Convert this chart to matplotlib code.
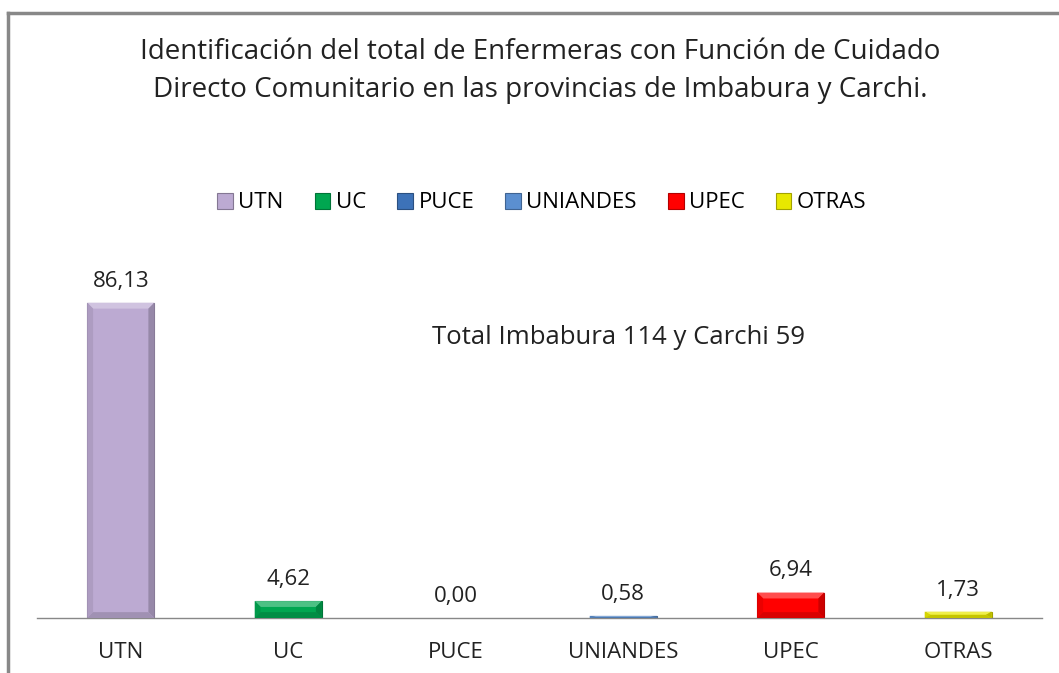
import numpy as np
import matplotlib.pyplot as plt
from matplotlib.patches import Rectangle, Polygon
from matplotlib.lines import Line2D

plt.rcParams['font.family'] = ['Open Sans', 'DejaVu Sans']

categories = ['UTN', 'UC', 'PUCE', 'UNIANDES', 'UPEC', 'OTRAS']
values = [86.13, 4.62, 0.00, 0.58, 6.94, 1.73]
labels = ['86,13', '4,62', '0,00', '0,58', '6,94', '1,73']
colors = ['#bcaad2', '#00a650', '#3d72b8', '#5b8fd0', '#ff0000', '#e8e800']

title = ('Identificación del total de Enfermeras con Función de Cuidado\n'
         'Directo Comunitario en las provincias de Imbabura y Carchi.')
note = 'Total Imbabura 114 y Carchi 59'


def shade(c, f):
    rgb = np.array(plt.matplotlib.colors.to_rgb(c))
    if f > 0:
        rgb = rgb + (1 - rgb) * f
    else:
        rgb = rgb * (1 + f)
    return tuple(rgb)


fig = plt.figure(figsize=(10.59, 6.73), dpi=100)

# outer frame (chart area border, cropped at right/bottom)
fig.add_artist(Line2D([0.0075, 1.0], [1 - 13 / 673, 1 - 13 / 673], color='#888888', lw=2.5))
fig.add_artist(Line2D([0.0075, 0.0075], [0, 1 - 13 / 673], color='#888888', lw=2.5))

ax = fig.add_axes([37 / 1059, 55 / 673, 1005 / 1059, 366 / 673])
x = np.arange(len(categories))
w = 0.4
ax.set_xlim(-0.5, len(categories) - 0.5)
ax.set_ylim(0, 100)

# bevelled bars
bev_x = 0.035
bev_y = 1.6
for xi, v, c in zip(x, values, colors):
    if v <= 0:
        continue
    left, right = xi - w / 2, xi + w / 2
    ax.add_patch(Rectangle((left, 0), w, v, facecolor=c, edgecolor=shade(c, -0.3), lw=0.8, zorder=2))
    by = min(bev_y, v / 2)
    bx = min(bev_x, w / 4)
    # top bevel lighter
    ax.add_patch(Polygon([(left, v), (right, v), (right - bx, v - by), (left + bx, v - by)],
                         closed=True, facecolor=shade(c, 0.3), edgecolor='none', zorder=3))
    # sides darker
    ax.add_patch(Polygon([(left, 0), (left, v), (left + bx, v - by), (left + bx, by)],
                         closed=True, facecolor=shade(c, -0.08), edgecolor='none', zorder=3))
    ax.add_patch(Polygon([(right, 0), (right, v), (right - bx, v - by), (right - bx, by)],
                         closed=True, facecolor=shade(c, -0.2), edgecolor='none', zorder=3))
    ax.add_patch(Polygon([(left, 0), (right, 0), (right - bx, by), (left + bx, by)],
                         closed=True, facecolor=shade(c, -0.15), edgecolor='none', zorder=3))

for xi, v, lab in zip(x, values, labels):
    ax.annotate(lab, (xi, v), xytext=(0, 8), textcoords='offset points',
                ha='center', va='bottom', fontsize=16, color='#222222')

ax.set_xticks(x)
ax.set_xticklabels(categories, fontsize=16, color='#222222')
ax.tick_params(axis='x', length=0, pad=17)
ax.set_yticks([])
for s in ['top', 'right', 'left']:
    ax.spines[s].set_visible(False)
ax.spines['bottom'].set_color('#888888')
ax.spines['bottom'].set_linewidth(1.0)

ax.text(619 / 1059, 1 - 338 / 673, note, transform=fig.transFigure,
        ha='center', va='center', fontsize=18.5, color='#222222')

fig.text(540 / 1059, 1 - 71 / 673, title, ha='center', va='center', fontsize=20,
         color='#222222', linespacing=1.5)

handles = [Rectangle((0, 0), 1, 1, facecolor=c, edgecolor=shade(c, -0.3), lw=0.8) for c in colors]
fig.legend(handles, categories, loc='center', bbox_to_anchor=(542 / 1059, 1 - 203 / 673),
           ncol=6, frameon=False, fontsize=16, handlelength=0.7, handleheight=0.7,
           handletextpad=0.25, columnspacing=1.4)

fig.savefig('out.png', dpi=100, facecolor='white')
